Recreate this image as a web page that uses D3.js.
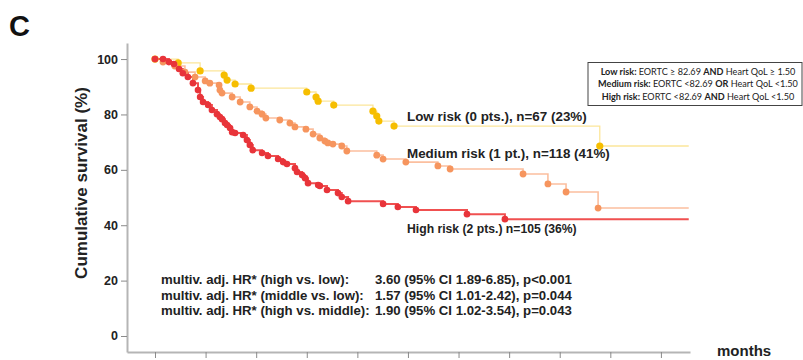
<!DOCTYPE html>
<html>
<head>
<meta charset="utf-8">
<script src="https://cdn.jsdelivr.net/npm/d3@7"></script>
<style>
body { margin: 0; background: #fff; }
text { font-family: "Liberation Sans", Arial, sans-serif; }
</style>
</head>
<body>
<div class="chart"></div>
<script>
var WIDTH = 803;
var HEIGHT = 360;

// event points: [month, cumulative survival %]
var lowRisk = [
    [5.5, 98.6], [10.7, 95.7], [16.4, 94.2], [17.1, 92.4], [19.0, 91.0], [22.8, 89.5],
    [36.0, 88.1], [38.2, 86.3], [38.7, 84.8], [42.4, 83.4], [51.7, 81.2], [52.6, 79.4],
    [53.1, 77.6], [56.7, 75.8], [105.5, 68.6]
];
var mediumRisk = [
    [1.9, 98.9], [4.7, 97.5], [7.1, 95.3], [9.5, 93.5], [11.9, 92.1], [13.0, 91.3],
    [15.2, 90.6], [15.4, 88.8], [15.9, 87.7], [18.3, 86.3], [20.2, 84.5], [22.5, 82.7],
    [24.2, 81.2], [25.4, 80.1], [26.3, 78.7], [29.6, 78.0], [32.0, 76.9], [33.2, 75.5],
    [35.8, 74.7], [37.5, 72.9], [39.1, 71.5], [40.3, 70.4], [41.0, 69.7], [42.2, 69.3],
    [44.3, 68.6], [45.5, 66.8], [52.6, 65.3], [54.1, 63.9], [59.5, 62.8], [67.1, 61.4],
    [70.0, 60.3], [87.3, 58.5], [93.2, 54.9], [97.5, 52.0], [105.1, 46.2]
];
var highRisk = [
    [1.9, 100.0], [3.3, 98.9], [4.5, 98.2], [5.7, 96.4], [6.6, 94.9], [7.8, 93.5],
    [9.0, 91.3], [10.2, 88.8], [10.7, 86.3], [11.4, 84.5], [12.6, 83.4], [13.5, 81.6],
    [14.7, 80.1], [15.4, 79.1], [15.9, 78.3], [16.6, 76.9], [17.1, 76.2], [17.8, 75.1],
    [18.3, 73.6], [19.0, 73.3], [20.9, 72.6], [21.8, 70.8], [22.5, 69.0], [23.2, 67.1],
    [25.4, 66.1], [26.8, 65.0], [29.2, 63.9], [30.4, 62.8], [31.3, 62.1], [33.2, 60.6],
    [33.7, 59.2], [34.9, 58.1], [35.6, 57.0], [36.3, 55.2], [38.7, 54.5], [39.1, 54.2],
    [40.8, 52.7], [43.4, 51.6], [44.3, 50.2], [45.8, 48.7], [54.1, 47.7], [57.6, 46.6],
    [61.9, 45.5], [74.0, 44.0], [83.0, 42.2]
];
var endMonth = 126.6;

var yTicks = [0, 20, 40, 60, 80, 100];
var xTicks = [0, 12, 24, 36, 48, 60, 72, 84, 96, 108, 120];

var groupLabels = [
    "Low risk (0 pts.), n=67 (23%)",
    "Medium risk (1 pt.), n=118 (41%)",
    "High risk (2 pts.) n=105 (36%)"
];
var hrLabels = [
    "multiv. adj. HR* (high vs. low):",
    "multiv. adj. HR* (middle vs. low):",
    "multiv. adj. HR* (high vs. middle):"
];
var hrValues = [
    "3.60 (95% CI 1.89-6.85), p<0.001",
    "1.57 (95% CI 1.01-2.42), p=0.044",
    "1.90 (95% CI 1.02-3.54), p=0.043"
];
var boxLines = [
    [["Low risk: ", true], ["EORTC \u2265 82.69 ", false], ["AND", true], [" Heart QoL \u2265 1.50", false]],
    [["Medium risk: ", true], ["EORTC <82.69 ", false], ["OR", true], [" Heart QoL <1.50", false]],
    [["High risk: ", true], ["EORTC <82.69 ", false], ["AND", true], [" Heart QoL <1.50", false]]
];

var svg = d3.select(".chart")
    .append("svg")
    .attr("width", WIDTH)
    .attr("height", HEIGHT);

var x = d3.scaleLinear().domain([-6.64, 126.9]).range([127, 690]);
var y = d3.scaleLinear().domain([-5.78, 105.8]).range([352, 43]);

// axes
var yAxis = svg.append("g")
    .attr("transform", "translate(127,0)")
    .call(d3.axisLeft(y).tickValues(yTicks).tickSize(6).tickSizeOuter(0).tickPadding(3));
var xAxis = svg.append("g")
    .attr("transform", "translate(0,352)")
    .call(d3.axisBottom(x).tickValues(xTicks).tickSize(6).tickSizeOuter(0).tickFormat(""));

svg.selectAll(".domain").attr("stroke", "#b5b5b5").attr("stroke-width", 2);
svg.selectAll(".tick line").attr("stroke", "#8a8a8a").attr("stroke-width", 1);
yAxis.selectAll("text")
    .attr("font-size", 12.5)
    .attr("font-weight", "bold")
    .attr("fill", "#222");

var line = d3.line()
    .x(function(d) { return x(d[0]); })
    .y(function(d) { return y(d[1]); })
    .curve(d3.curveStepAfter);

var series = [
    {data: lowRisk, line: "#fce69a", dot: "#f6be00", lw: 1.3, r: 3.6},
    {data: mediumRisk, line: "#fbbf9f", dot: "#f6955e", lw: 1.6, r: 3.4},
    {data: highRisk, line: "#f05050", dot: "#e8343a", lw: 2, r: 3.3}
];

series.forEach(function(s) {
    var pts = [[0, 100]].concat(s.data);
    pts.push([endMonth, s.data[s.data.length - 1][1]]);
    svg.append("path")
        .attr("d", line(pts))
        .attr("fill", "none")
        .attr("stroke", s.line)
        .attr("stroke-width", s.lw);
});

series.forEach(function(s) {
    svg.append("g").selectAll("circle")
        .data([[0, 100]].concat(s.data))
        .enter().append("circle")
        .attr("cx", function(d) { return x(d[0]); })
        .attr("cy", function(d) { return y(d[1]); })
        .attr("r", s.r)
        .attr("fill", s.dot);
});

// labels
svg.append("text")
    .attr("x", 9)
    .attr("y", 36)
    .attr("font-size", 29)
    .attr("font-weight", "bold")
    .attr("fill", "#111")
    .text("C");

svg.append("text")
    .attr("transform", "translate(87,183) rotate(-90)")
    .attr("text-anchor", "middle")
    .attr("font-size", 17)
    .attr("font-weight", "bold")
    .attr("fill", "#222")
    .text("Cumulative survival (%)");

svg.append("text")
    .attr("x", 717)
    .attr("y", 356)
    .attr("font-size", 15)
    .attr("font-weight", "bold")
    .attr("fill", "#222")
    .text("months");

var groupY = [121, 158, 233];
svg.selectAll(".glabel")
    .data(groupLabels)
    .enter().append("text")
    .attr("x", 407)
    .attr("y", function(d, i) { return groupY[i]; })
    .attr("font-size", function(d, i) { return i == 2 ? 12.2 : 13.4; })
    .attr("font-weight", "bold")
    .attr("fill", "#222")
    .text(function(d) { return d; });

// hazard ratio block: label, then value in a second column
var hrY = [284, 300, 315];
hrLabels.forEach(function(lab, i) {
    var t = svg.append("text")
        .attr("x", 161)
        .attr("y", hrY[i])
        .attr("font-size", 13.2)
        .attr("font-weight", "bold")
        .attr("fill", "#222")
        .text(lab);
    var end = 161 + t.node().getComputedTextLength() + 4;
    svg.append("text")
        .attr("x", Math.max(375, end))
        .attr("y", hrY[i])
        .attr("font-size", 13.2)
        .attr("font-weight", "bold")
        .attr("fill", "#222")
        .text(hrValues[i]);
});

// definition box
svg.append("rect")
    .attr("x", 588)
    .attr("y", 62.5)
    .attr("width", 214)
    .attr("height", 43)
    .attr("fill", "#fff")
    .attr("stroke", "#444")
    .attr("stroke-width", 1);

var boxY = [74.5, 87, 99.5];
boxLines.forEach(function(parts, i) {
    var t = svg.append("text")
        .attr("x", 698)
        .attr("y", boxY[i])
        .attr("text-anchor", "middle")
        .attr("font-size", 9.1)
        .attr("fill", "#222")
        .style("font-family", "Lato, 'Open Sans', sans-serif");
    parts.forEach(function(p) {
        t.append("tspan")
            .attr("font-weight", p[1] ? "bold" : "normal")
            .text(p[0]);
    });
});
</script>
</body>
</html>
